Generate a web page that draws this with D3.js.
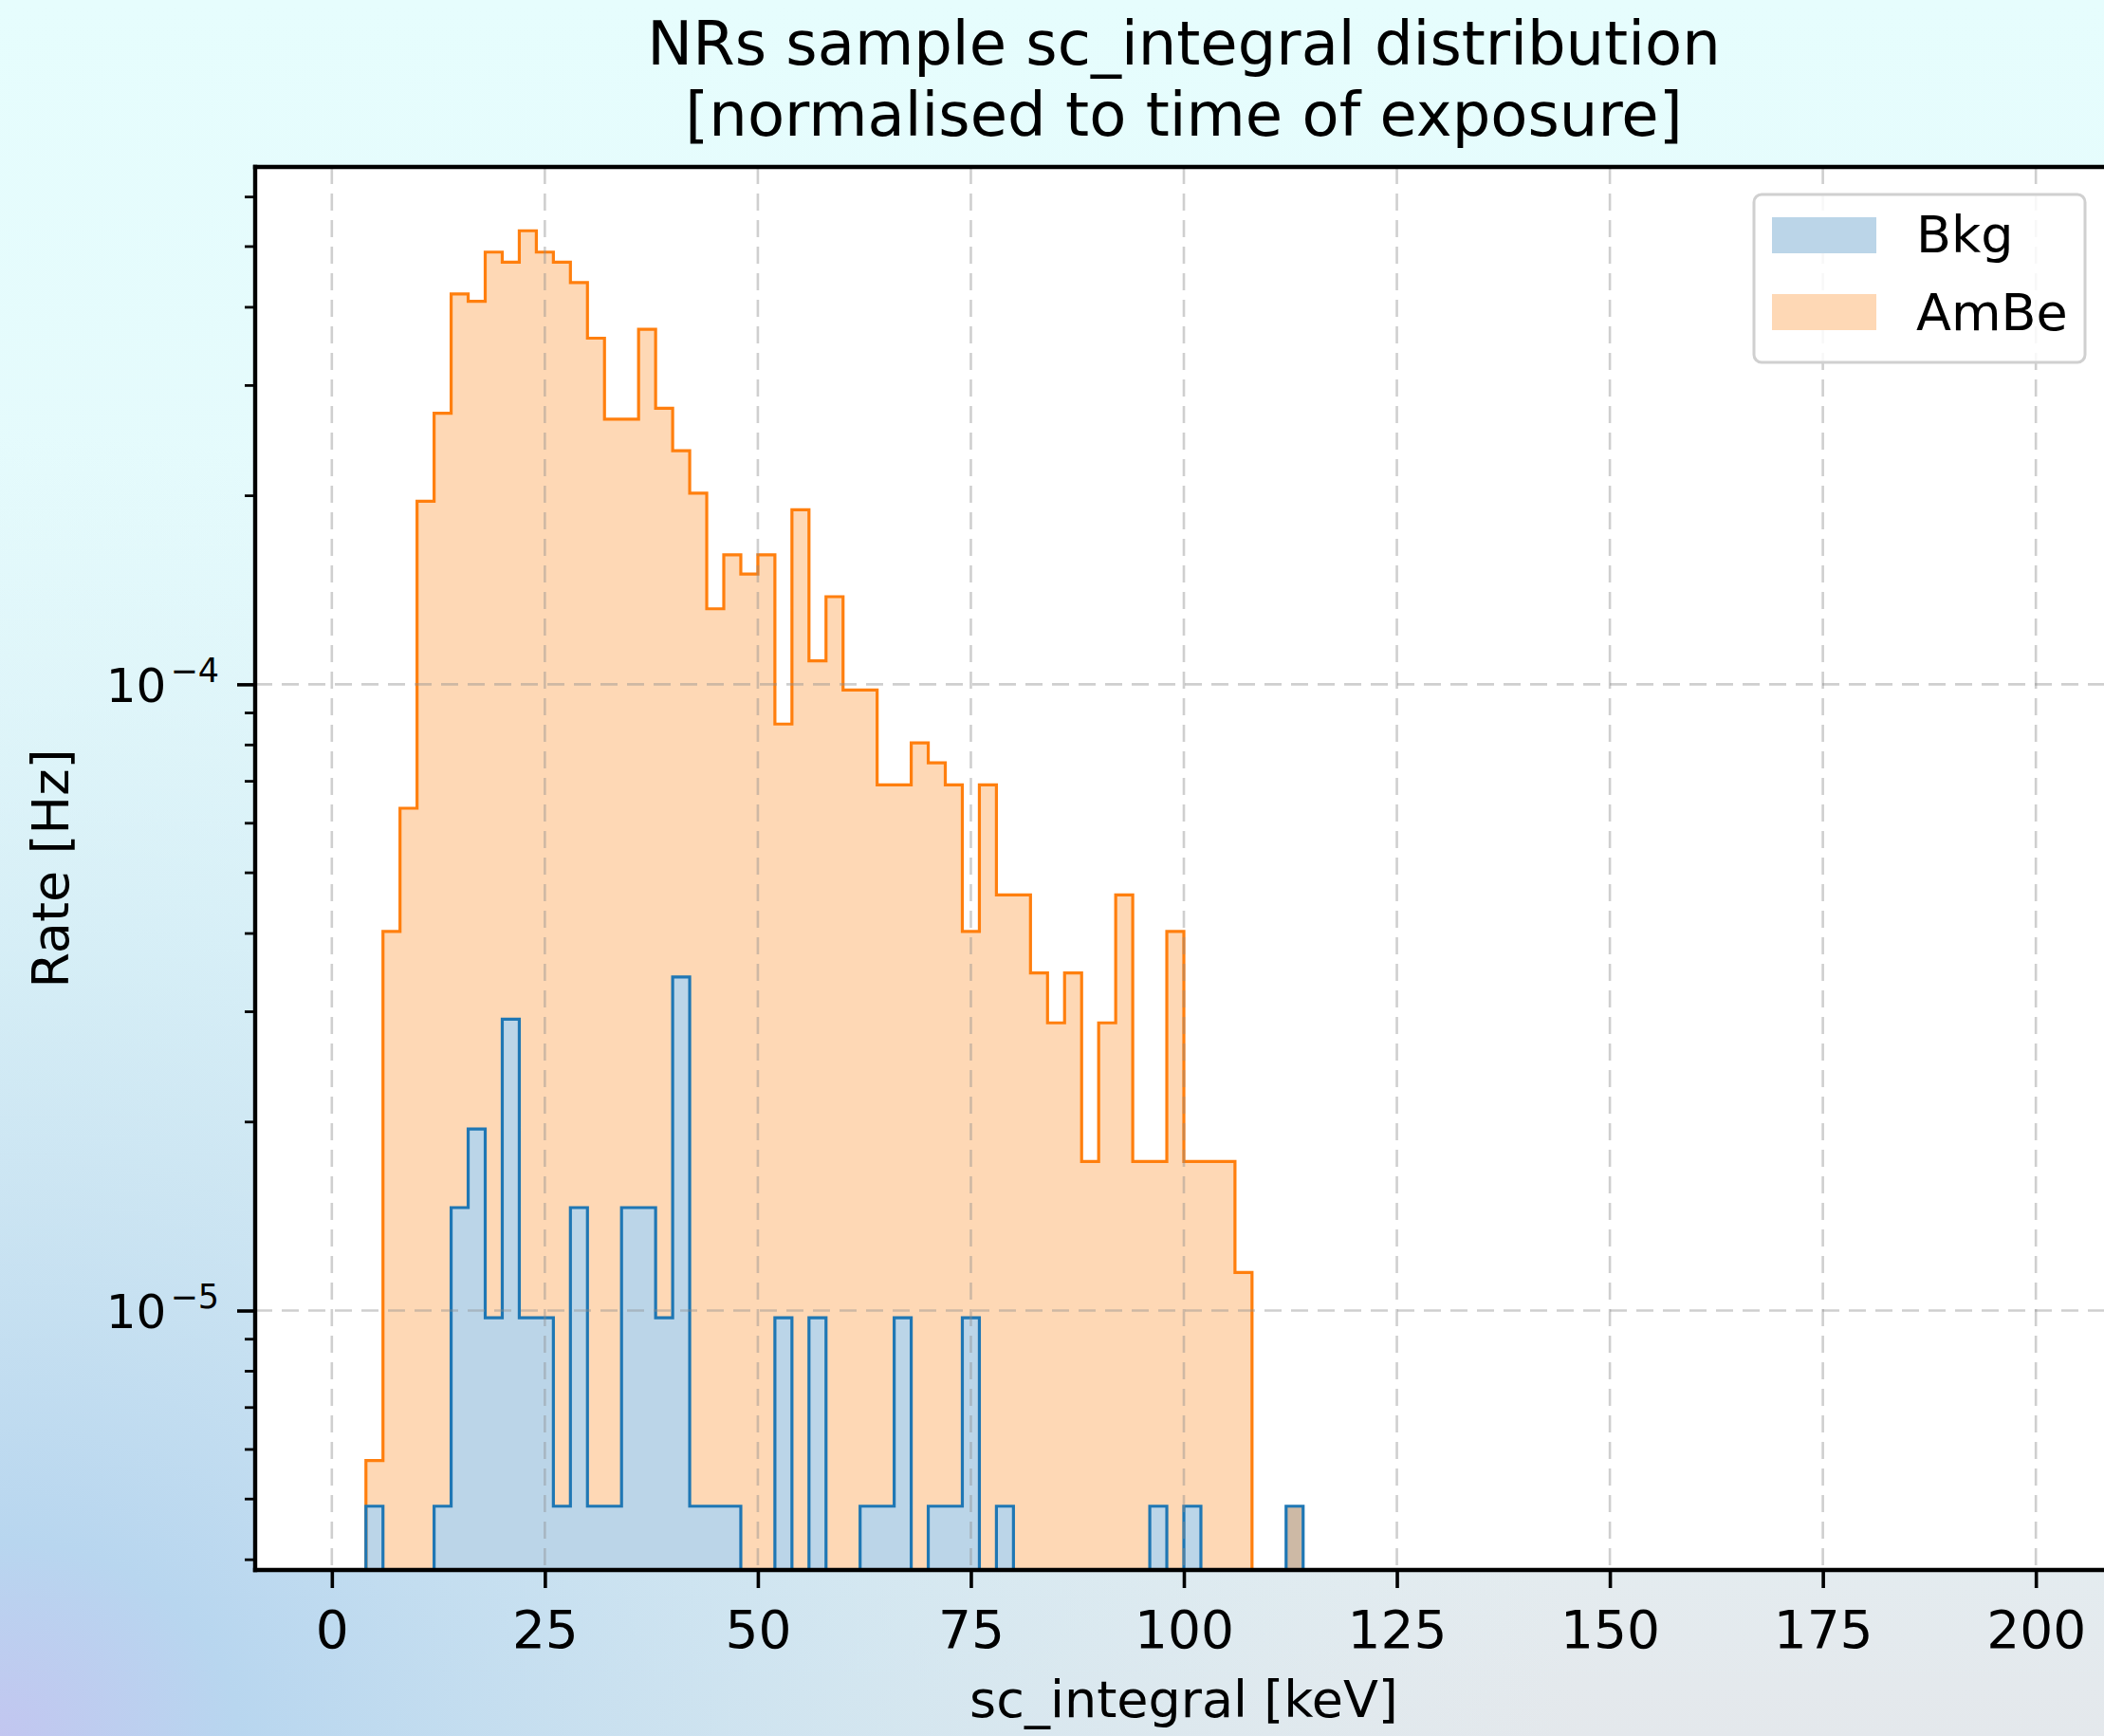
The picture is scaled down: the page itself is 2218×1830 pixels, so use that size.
<!DOCTYPE html>
<html>
<head>
<meta charset="utf-8">
<script src="https://cdn.jsdelivr.net/npm/d3@7"></script>
<style>
  html, body { margin: 0; padding: 0; overflow: hidden; }
  text { font-family: "DejaVu Sans", sans-serif; fill: #000; }
</style>
</head>
<body>
<div id="chart"></div>
<script>
// histogram binning: 2 keV bins starting at 0 keV
var binStart = 0;
var binWidth = 2;

// rate per bin [Hz], bins 0-2, 2-4, ... 112-114 keV
var bkgRate = [
  0, 0, 4.87e-6, 0, 0, 0, 4.87e-6, 1.46e-5, 1.95e-5, 9.74e-6,
  2.92e-5, 9.74e-6, 9.74e-6, 4.87e-6, 1.46e-5, 4.87e-6, 4.87e-6, 1.46e-5, 1.46e-5, 9.74e-6,
  3.41e-5, 4.87e-6, 4.87e-6, 4.87e-6, 0, 0, 9.74e-6, 0, 9.74e-6, 0,
  0, 4.87e-6, 4.87e-6, 9.74e-6, 0, 4.87e-6, 4.87e-6, 9.74e-6, 0, 4.87e-6,
  0, 0, 0, 0, 0, 0, 0, 0, 4.87e-6, 0,
  4.87e-6, 0, 0, 0, 0, 0, 4.87e-6
];
var ambeRate = [
  0, 0, 5.76e-6, 4.03e-5, 6.34e-5, 1.96e-4, 2.71e-4, 4.20e-4, 4.09e-4, 4.90e-4,
  4.72e-4, 5.30e-4, 4.90e-4, 4.72e-4, 4.38e-4, 3.57e-4, 2.65e-4, 2.65e-4, 3.69e-4, 2.76e-4,
  2.36e-4, 2.02e-4, 1.32e-4, 1.61e-4, 1.50e-4, 1.61e-4, 8.64e-5, 1.90e-4, 1.09e-4, 1.38e-4,
  9.79e-5, 9.79e-5, 6.91e-5, 6.91e-5, 8.06e-5, 7.49e-5, 6.91e-5, 4.03e-5, 6.91e-5, 4.61e-5,
  4.61e-5, 3.46e-5, 2.88e-5, 3.46e-5, 1.73e-5, 2.88e-5, 4.61e-5, 1.73e-5, 1.73e-5, 4.03e-5,
  1.73e-5, 1.73e-5, 1.73e-5, 1.15e-5, 0, 0, 0
];

var xTicks = [0, 25, 50, 75, 100, 125, 150, 175, 200];
var yMajor = [1e-5, 1e-4];
var yMajorLabels = [["10", "\u22125"], ["10", "\u22124"]];
var yMinor = [4e-6, 5e-6, 6e-6, 7e-6, 8e-6, 9e-6,
              2e-5, 3e-5, 4e-5, 5e-5, 6e-5, 7e-5, 8e-5, 9e-5,
              2e-4, 3e-4, 4e-4, 5e-4, 6e-4];

var W = 2218, H = 1830;
var pL = 269, pT = 176, pR = 2227, pB = 1655;

var svg = d3.select("#chart").append("svg")
  .attr("width", W).attr("height", H);

// figure background
var defs = svg.append("defs");
var bg = defs.append("linearGradient").attr("id", "bg")
  .attr("x1", 0).attr("y1", 0).attr("x2", 0).attr("y2", 1);
bg.append("stop").attr("offset", "0").attr("stop-color", "#e6fdfd");
bg.append("stop").attr("offset", "0.55").attr("stop-color", "#e3f8fb");
bg.append("stop").attr("offset", "1").attr("stop-color", "#e4e8ec");
var glow = defs.append("radialGradient").attr("id", "glow")
  .attr("cx", 0).attr("cy", 1).attr("r", 0.75);
glow.append("stop").attr("offset", "0").attr("stop-color", "#c2c6f0").attr("stop-opacity", 1);
glow.append("stop").attr("offset", "0.15").attr("stop-color", "#b8d6ef").attr("stop-opacity", 1);
glow.append("stop").attr("offset", "0.55").attr("stop-color", "#c8e4f2").attr("stop-opacity", 0.6);
glow.append("stop").attr("offset", "1").attr("stop-color", "#d8eef4").attr("stop-opacity", 0);
defs.append("clipPath").attr("id", "plotclip").append("rect")
  .attr("x", pL).attr("y", pT).attr("width", pR - pL).attr("height", pB - pT);

svg.append("rect").attr("width", W).attr("height", H).attr("fill", "url(#bg)");
svg.append("rect").attr("width", W).attr("height", H).attr("fill", "url(#glow)");
svg.append("rect").attr("x", pL).attr("y", pT)
  .attr("width", pR - pL).attr("height", pB - pT).attr("fill", "#fff");

// scales
var x = d3.scaleLinear().domain([-9, 209]).range([pL, pR]);

var allPos = bkgRate.concat(ambeRate).filter(function(v) { return v > 0; });
var lmin = Math.log10(d3.min(allPos)), lmax = Math.log10(d3.max(allPos));
var pad = 0.05 * (lmax - lmin);
var y = d3.scaleLog()
  .domain([Math.pow(10, lmin - pad), Math.pow(10, lmax + pad)])
  .range([pB, pT]);

function yv(v) { return v > 0 ? y(v) : pB + 30; }

function steps(rates) {
  var pts = rates.map(function(v, i) { return [binStart + i * binWidth, v]; });
  pts.push([binStart + rates.length * binWidth, 0]);
  return pts;
}

var area = d3.area().curve(d3.curveStepAfter)
  .x(function(d) { return x(d[0]); })
  .y0(pB + 30)
  .y1(function(d) { return yv(d[1]); });
var line = d3.line().curve(d3.curveStepAfter)
  .x(function(d) { return x(d[0]); })
  .y(function(d) { return yv(d[1]); });

var plot = svg.append("g").attr("clip-path", "url(#plotclip)");

// AmBe histogram
plot.append("path").datum(steps(ambeRate))
  .attr("fill", "#fed8b5").attr("d", area);

// Bkg histogram
plot.append("path").datum(steps(bkgRate))
  .attr("fill", "#bbd5e8").attr("d", area);
// Bkg bins lying outside the AmBe fill show a brownish tint
plot.selectAll(".bkgonly")
  .data(bkgRate.map(function(v, i) { return {i: i, v: v}; })
    .filter(function(d) { return d.v > 0 && !(ambeRate[d.i] > 0); }))
  .enter().append("rect")
  .attr("x", function(d) { return x(binStart + d.i * binWidth); })
  .attr("width", x(binWidth) - x(0))
  .attr("y", function(d) { return y(d.v); })
  .attr("height", function(d) { return pB - y(d.v); })
  .attr("fill", "#cdb9a5");

plot.append("path").datum(steps(ambeRate))
  .attr("fill", "none").attr("stroke", "#ff7f0e").attr("stroke-width", 3.2)
  .attr("d", line);
plot.append("path").datum(steps(bkgRate))
  .attr("fill", "none").attr("stroke", "#1f77b4").attr("stroke-width", 3.2)
  .attr("d", line);

// grid
var grid = svg.append("g").attr("clip-path", "url(#plotclip)")
  .attr("stroke", "rgba(140,140,140,0.42)").attr("stroke-width", 2.6)
  .attr("stroke-dasharray", "18,10");
grid.selectAll(".vg").data(xTicks).enter().append("line")
  .attr("x1", function(d) { return x(d); }).attr("x2", function(d) { return x(d); })
  .attr("y1", pT).attr("y2", pB);
grid.selectAll(".hg").data(yMajor).enter().append("line")
  .attr("y1", function(d) { return y(d); }).attr("y2", function(d) { return y(d); })
  .attr("x1", pL).attr("x2", pR);

// x axis
var xAxis = svg.append("g")
  .attr("transform", "translate(0," + pB + ")")
  .call(d3.axisBottom(x).tickValues(xTicks).tickSize(19).tickSizeOuter(0).tickPadding(24));
xAxis.select(".domain").remove();
xAxis.selectAll(".tick line").attr("stroke", "#000").attr("stroke-width", 3.6);
xAxis.selectAll(".tick text")
  .style("font-family", "DejaVu Sans").style("font-size", "55px");

// y axis: minor ticks
svg.append("g").selectAll("line").data(yMinor.filter(function(d) {
    return d >= y.domain()[0] && d <= y.domain()[1];
  })).enter().append("line")
  .attr("x1", pL - 11).attr("x2", pL)
  .attr("y1", function(d) { return y(d); }).attr("y2", function(d) { return y(d); })
  .attr("stroke", "#000").attr("stroke-width", 2.8);

// y axis: major ticks and labels
var yAxis = svg.append("g").attr("transform", "translate(" + pL + ",0)")
  .call(d3.axisLeft(y).tickValues(yMajor).tickSize(19).tickSizeOuter(0).tickFormat(""));
yAxis.select(".domain").remove();
yAxis.selectAll(".tick line").attr("stroke", "#000").attr("stroke-width", 3.6);
yAxis.selectAll(".tick text").remove();
yMajor.forEach(function(v, i) {
  var t = svg.append("text")
    .attr("x", 231).attr("y", y(v) + 19)
    .attr("text-anchor", "end");
  t.append("tspan").style("font-size", "50px").text(yMajorLabels[i][0]);
  t.append("tspan").style("font-size", "35px").attr("dx", 4).attr("dy", -21)
    .text(yMajorLabels[i][1]);
});

// spines
var spine = svg.append("g").attr("stroke", "#000").attr("stroke-width", 4.4)
  .attr("stroke-linecap", "square");
spine.append("line").attr("x1", pL).attr("x2", pL).attr("y1", pT).attr("y2", pB);
spine.append("line").attr("x1", pL).attr("x2", pR).attr("y1", pT).attr("y2", pT);
spine.append("line").attr("x1", pL).attr("x2", pR).attr("y1", pB).attr("y2", pB);

// titles and labels
var cx = (pL + pR) / 2;
svg.append("text").attr("x", cx).attr("y", 68).attr("text-anchor", "middle")
  .style("font-size", "64px").text("NRs sample sc_integral distribution");
svg.append("text").attr("x", cx).attr("y", 143).attr("text-anchor", "middle")
  .style("font-size", "64px").text("[normalised to time of exposure]");
svg.append("text").attr("x", cx).attr("y", 1810).attr("text-anchor", "middle")
  .style("font-size", "54px").text("sc_integral [keV]");
svg.append("text")
  .attr("transform", "translate(72," + (pT + pB) / 2 + ") rotate(-90)")
  .attr("text-anchor", "middle").style("font-size", "54px").text("Rate [Hz]");

// legend
var legendItems = [
  {name: "Bkg", fill: "#bbd5e8"},
  {name: "AmBe", fill: "#fed8b5"}
];
var lg = svg.append("g");
lg.append("rect").attr("x", 1849).attr("y", 205).attr("width", 349).attr("height", 177)
  .attr("rx", 8).attr("fill", "rgba(255,255,255,0.85)")
  .attr("stroke", "#d0d0d0").attr("stroke-width", 3);
legendItems.forEach(function(d, i) {
  lg.append("rect").attr("x", 1868).attr("y", 229 + i * 81)
    .attr("width", 110).attr("height", 38).attr("fill", d.fill);
  lg.append("text").attr("x", 2020).attr("y", 266 + i * 82)
    .style("font-size", "54px").text(d.name);
});
</script>
</body>
</html>
